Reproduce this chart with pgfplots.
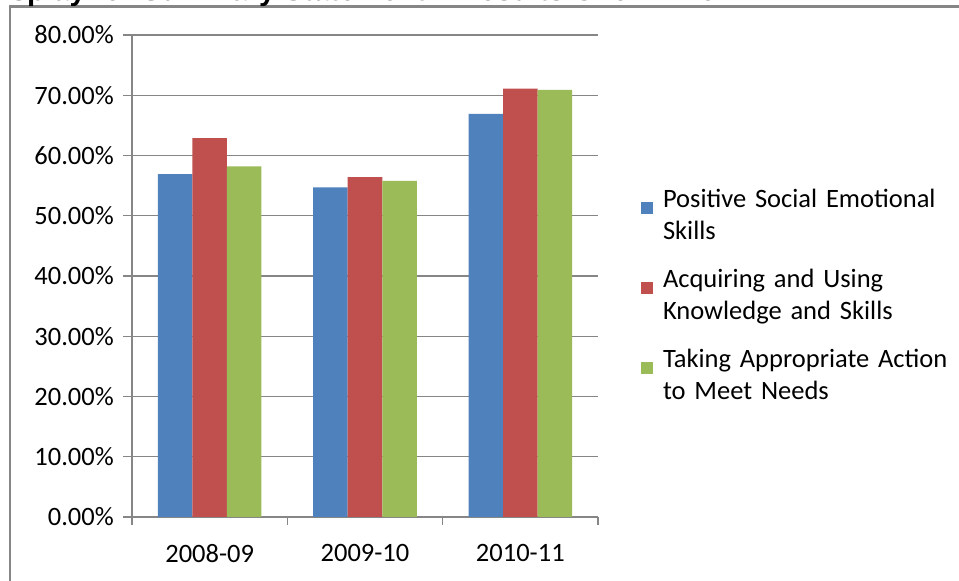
\documentclass[border=0pt]{standalone}
\usepackage{pgfplots}
\pgfplotsset{compat=1.18}
\usepackage{fontspec}
\setmainfont{Carlito}
\newfontfamily\titlefont{Liberation Sans}
\definecolor{cblue}{HTML}{4F81BD}
\definecolor{cred}{HTML}{C0504D}
\definecolor{cgreen}{HTML}{9BBB59}
\definecolor{gridgray}{HTML}{868686}
\begin{document}
\fontsize{13.25}{16}\selectfont
\begin{tikzpicture}
\useasboundingbox (0pt,0pt) rectangle (479.5pt,290.5pt);
\draw[gridgray, line width=1.25pt] (5pt,-2pt) -- (5pt,287.25pt) -- (482pt,287.25pt);
\node[anchor=base west, inner sep=0pt, font=\titlefont\bfseries\fontsize{14.7}{17}\selectfont] at (-9.5pt,290pt) {Display for Summary Statement 1 Results Over Time};
\begin{axis}[
  at={(66pt,32pt)}, anchor=south west,
  scale only axis, width=233pt, height=241pt,
  xmin=-0.5, xmax=2.5, ymin=0, ymax=80,
  axis lines*=left,
  axis line style={gridgray, line width=0.6pt},
  every tick/.style={gridgray, line width=0.6pt},
  tick align=outside,
  xtick={0,1,2}, xticklabels={2008-09,2009-10,2010-11},
  minor xtick={-0.5,0.5,1.5,2.5},
  major x tick style={draw=none},
  minor tick length=4pt,
  major tick length=4.5pt,
  ytick={0,10,...,80},
  yticklabel={\pgfmathprintnumber[fixed,fixed zerofill,precision=2]{\tick}\%},
  /pgf/number format/assume math mode=true,
  ymajorgrids,
  grid style={gridgray, line width=0.6pt},
  xticklabel style={yshift=-4.5pt},
  bar width=0.2222,
  legend style={at={(1.0923,0.456)}, anchor=west, draw=none, fill=none,
    inner sep=0pt, outer sep=0pt, row sep=10pt, column sep=5pt,
    nodes={text width=150pt, align=left, inner sep=0pt, text height=10pt, text depth=20pt}},
  legend image code/.code={\fill[#1] (0pt,1.6pt) rectangle (6pt,7.6pt);},
]
\addplot[ybar, fill=cblue, draw=none, bar shift=-0.2222] coordinates {(0,56.9) (1,54.7) (2,66.9)};
\addplot[ybar, fill=cred, draw=none, bar shift=0] coordinates {(0,62.9) (1,56.4) (2,71.1)};
\addplot[ybar, fill=cgreen, draw=none, bar shift=0.2222] coordinates {(0,58.2) (1,55.8) (2,70.9)};
\legend{Positive Social Emotional\\Skills, Acquiring and Using\\Knowledge and Skills, Taking Appropriate Action\\to Meet Needs}
\end{axis}
\end{tikzpicture}
\end{document}
